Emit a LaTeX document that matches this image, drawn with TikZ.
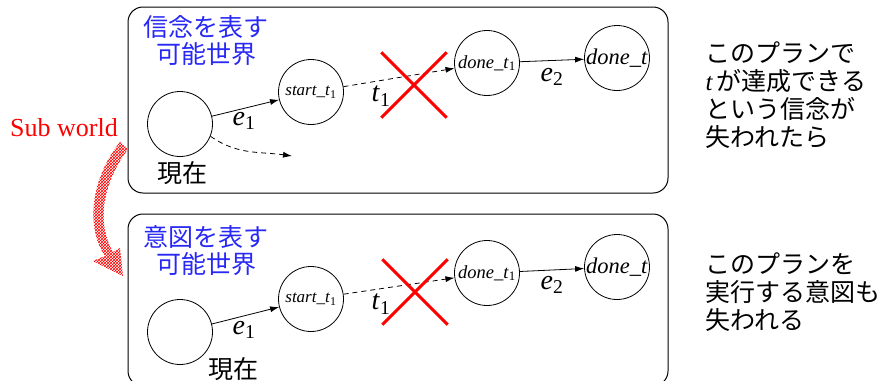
\documentclass[tikz,border=0pt]{standalone}
\usepackage{fontspec}
\setmainfont{Liberation Serif}
\newfontfamily\jp{Noto Sans CJK JP}
\usetikzlibrary{arrows.meta,patterns}
\definecolor{jpblue}{RGB}{40,40,245}
\begin{document}
\begin{tikzpicture}[x=1pt,y=-1pt,
  world/.style={draw, line width=1pt, rounded corners=15pt},
  st/.style={circle, draw, line width=0.8pt, minimum size=65pt, inner sep=0pt},
  arr/.style={-{Latex[length=9pt,width=6pt]}, line width=0.8pt},
  darr/.style={arr, dash pattern=on 5pt off 4pt},
  lbl/.style={font=\fontsize{28}{30}\selectfont},
  jptext/.style={font=\jp\fontsize{25}{27}\selectfont, align=center, text=jpblue},
  sidetext/.style={font=\jp\fontsize{25}{28}\selectfont, align=left, anchor=west},
  nowlbl/.style={font=\jp\fontsize{25}{27}\selectfont},
  xbox/.style={minimum size=65pt, inner sep=0pt},
  cross/.style={red, line width=3pt}]
\clip (0,0) rectangle (882,380);
\useasboundingbox (0,0) rectangle (882,380);

% ---------- top world ----------
\draw[world] (128,7) rectangle (668,193);
\node[jptext] (b1) at (206,41) {信念を表す\\可能世界};
\node[st] (now1) at (180,124) {};
\node[nowlbl] (nl1) at (182,173) {現在};
\node[st, font=\fontsize{17}{19}\selectfont] (s1) at (311,92) {\textit{start\_t}\textsubscript{1}};
\node[st, font=\fontsize{18.5}{20}\selectfont] (d1) at (487,63) {\textit{done\_t}\textsubscript{1}};
\node[st, font=\fontsize{22.5}{24}\selectfont] (dt1) at (617,58) {\textit{done\_t}};
\coordinate (c1) at (292,156);
\draw[arr] (now1) -- (s1);
\draw[darr] (s1) -- (d1);
\draw[arr] (d1) -- (dt1);
\draw[darr] (now1.-22) to[out=-35, in=172] (c1);
\node[lbl] (e11) at (244,121) {\textit{e}\textsubscript{1}};
\node[lbl] (t11) at (381,96) {\textit{t}\textsubscript{1}};
\node[lbl] (e21) at (552,77) {\textit{e}\textsubscript{2}};
\node[xbox] (x1) at (414,85) {};
\draw[cross] (x1.north west) -- (x1.south east);
\draw[cross] (x1.south west) -- (x1.north east);
\node[sidetext] (r1) at (702,95) {このプランで\\{\rmfamily\itshape t}\,が達成できる\\という信念が\\失われたら};

% ---------- bottom world ----------
\draw[world] (128,214) rectangle (668,386);
\node[jptext] (b2) at (206,251) {意図を表す\\可能世界};
\node[st] (now2) at (180,332) {};
\node[nowlbl] (nl2) at (233,369) {現在};
\node[st, font=\fontsize{17}{19}\selectfont] (s2) at (311,299) {\textit{start\_t}\textsubscript{1}};
\node[st, font=\fontsize{18.5}{20}\selectfont] (d2) at (487,273) {\textit{done\_t}\textsubscript{1}};
\node[st, font=\fontsize{22.5}{24}\selectfont] (dt2) at (617,267) {\textit{done\_t}};
\draw[arr] (now2) -- (s2);
\draw[darr] (s2) -- (d2);
\draw[arr] (d2) -- (dt2);
\node[lbl] (e12) at (244,330) {\textit{e}\textsubscript{1}};
\node[lbl] (t12) at (381,304) {\textit{t}\textsubscript{1}};
\node[lbl] (e22) at (552,285) {\textit{e}\textsubscript{2}};
\node[xbox] (x2) at (415,292) {};
\draw[cross] (x2.north west) -- (x2.south east);
\draw[cross] (x2.south west) -- (x2.north east);
\node[sidetext] (r2) at (702,292) {このプランを\\実行する意図も\\失われる};

% ---------- sub world arrow ----------
\node[text=red, font=\fontsize{26}{28}\selectfont] (sw) at (64,128) {Sub world};
\path[preaction={pattern=crosshatch dots, pattern color=red},
      pattern=crosshatch, pattern color=red]
  (120,142) .. controls (90,180) and (86,228) .. (105,256)
  -- (93,261) -- (123,276) -- (120,248) -- (113,252)
  .. controls (97,224) and (101,186) .. (128,149) -- cycle;
\end{tikzpicture}
\end{document}
